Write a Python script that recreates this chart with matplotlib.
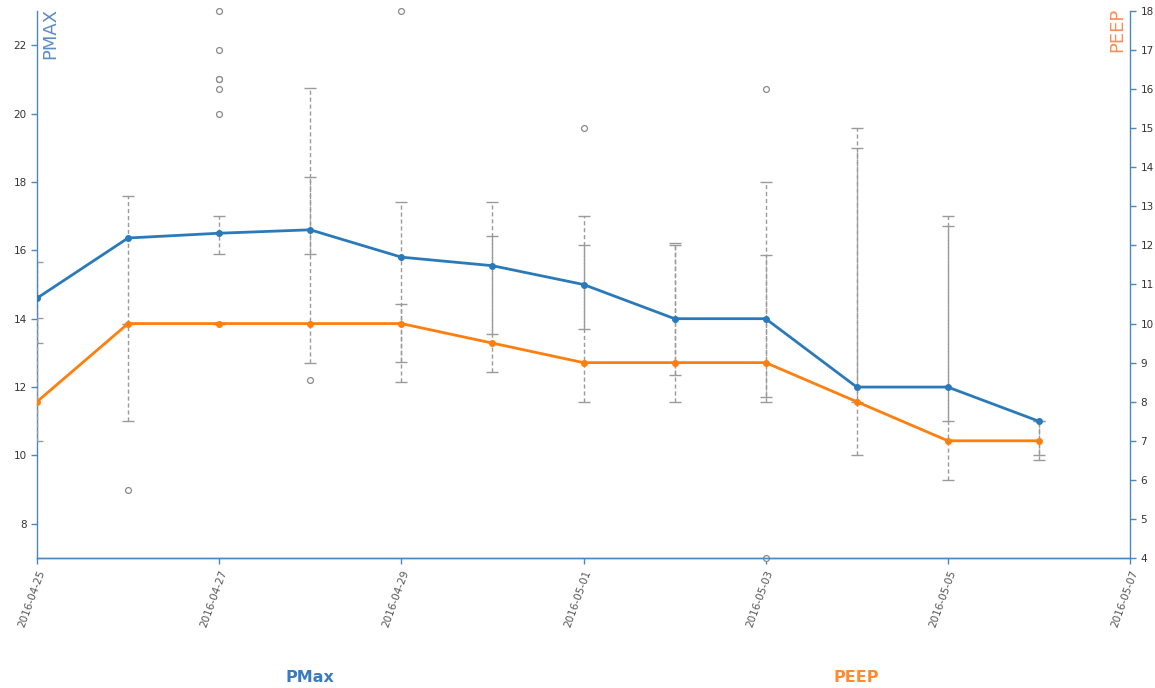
import matplotlib
matplotlib.use("Agg")
import matplotlib.pyplot as plt
import matplotlib.dates as mdates
import numpy as np
import pandas as pd

# ---- data ----
dates = pd.date_range("2016-04-25", "2016-05-06", freq="D")
pmax = [14.6, 16.36, 16.5, 16.6, 15.8, 15.55, 15.0, 14.0, 14.0, 12.0, 12.0, 11.0]
peep = [8, 10, 10, 10, 10, 9.5, 9, 9, 9, 8, 7, 7]

pmax_lo = [13.3, 11.0, 15.9, 15.9, 12.73, 13.55, 13.7, 12.35, 11.7, 10.0, 11.0, 10.0]
pmax_hi = [15.65, 17.6, 17.0, 20.75, 17.4, 17.4, 17.0, 16.2, 18.0, 19.0, 17.0, 11.0]
peep_lo = [7.0, 10.0, 10.0, 9.0, 8.5, 8.75, 8.0, 8.0, 8.0, 8.0, 6.0, 6.5]
peep_hi = [10.15, 10.0, 10.0, 13.75, 10.5, 12.25, 12.0, 12.0, 11.75, 15.0, 12.5, 7.5]

outlier_dates = pd.to_datetime(["2016-04-26", "2016-04-27", "2016-04-27", "2016-04-27",
                                "2016-04-27", "2016-04-27", "2016-04-27", "2016-04-28",
                                "2016-04-29", "2016-05-01", "2016-05-03", "2016-05-03"])
outlier_vals = [9.0, 20.0, 20.72, 21.0, 21.02, 21.87, 23.0, 12.2, 23.0, 19.58, 20.72, 7.0]

BLUE = "#2a7ab9"
ORANGE = "#ff7f0e"
AXIS = "#4a86c0"
WHISK = "#9a9a9a"

fig = plt.figure(figsize=(11.55, 6.88), dpi=100, facecolor="white")
ax = fig.add_axes([37 / 1155, 1 - 558 / 688, (1130 - 37) / 1155, (558 - 11) / 688])
ax2 = ax.twinx()


def whiskers(a, x, mid, lo, hi):
    mid = np.asarray(mid, float)
    lo = np.asarray(lo, float)
    hi = np.asarray(hi, float)
    eb = a.errorbar(x, mid, yerr=[mid - lo, hi - mid], fmt="none", ecolor=WHISK,
                    elinewidth=1.0, capsize=4, capthick=1.0, zorder=1)
    for lc in eb[2]:
        lc.set_linestyle((0, (3, 2)))
    return eb


whiskers(ax, dates, pmax, pmax_lo, pmax_hi)
whiskers(ax2, dates, peep, peep_lo, peep_hi)

ax.scatter(outlier_dates, outlier_vals, s=18, facecolors="white", edgecolors="#8a8a8a",
           linewidths=0.9, zorder=2, clip_on=False)

# lines on top axes so they sit above all whiskers
ax2.plot(dates, pmax, color=BLUE, lw=2.0, marker="o", ms=4, zorder=5,
         transform=ax.transData)
ax2.plot(dates, peep, color=ORANGE, lw=2.0, marker="o", ms=4, zorder=5)

# ---- axes styling ----
ax.set_ylim(7, 23)
ax.set_yticks(np.arange(8, 23, 2))
ax2.set_ylim(4, 18)
ax2.set_yticks(np.arange(4, 19, 1))
ax.set_xlim(pd.Timestamp("2016-04-25"), pd.Timestamp("2016-05-07"))
ax.set_xticks(pd.date_range("2016-04-25", "2016-05-07", freq="2D"))
ax.xaxis.set_major_formatter(mdates.DateFormatter("%Y-%m-%d"))

for a in (ax, ax2):
    a.spines["top"].set_visible(False)
    for s in ("left", "right", "bottom"):
        a.spines[s].set_color(AXIS)
        a.spines[s].set_linewidth(1.0)
    a.tick_params(colors=AXIS, labelcolor="#333333", labelsize=7.5, length=4, width=1)
ax.spines["right"].set_visible(False)
ax2.spines["left"].set_visible(False)

for lbl in ax.get_xticklabels():
    lbl.set_rotation(70)
    lbl.set_ha("right")
    lbl.set_va("top")
    lbl.set_rotation_mode("anchor")
    lbl.set_color("#555555")
ax.tick_params(axis="x", pad=4)

# axis titles inside the plot
fig.text(41 / 1155, 1 - 8 / 688, "PMAX", rotation=90, ha="left", va="top",
         fontsize=13, color="#5b8cc6")
fig.text(1126 / 1155, 1 - 8 / 688, "PEEP", rotation=90, ha="right", va="top",
         fontsize=13, color="#ff8a55")

# legend labels at the bottom
fig.text(310 / 1155, 1 - 677 / 688, "PMax", ha="center", va="center",
         fontsize=11.5, fontweight="bold", color="#3a7bbf")
fig.text(856 / 1155, 1 - 677 / 688, "PEEP", ha="center", va="center",
         fontsize=11.5, fontweight="bold", color="#ff8a30")

fig.savefig("out.png", dpi=100)
